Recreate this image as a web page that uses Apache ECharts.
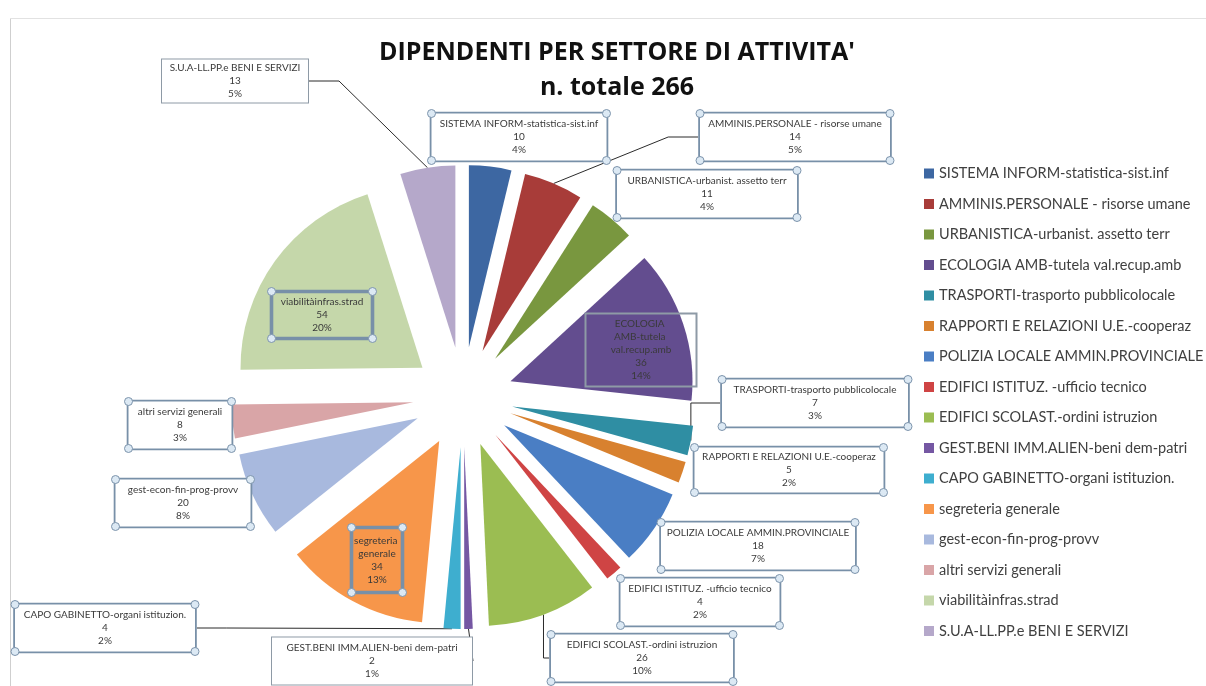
<!DOCTYPE html>
<html>
<head>
<meta charset="utf-8">
<script src="https://cdn.jsdelivr.net/npm/echarts@6/dist/echarts.min.js"></script>
<style>
  html, body { margin: 0; padding: 0; background: #ffffff; }
  #chart { width: 1206px; height: 686px; }
</style>
</head>
<body>
<div id="chart"></div>
<script>
// ---- data ----
const titleLine1 = "DIPENDENTI PER SETTORE DI ATTIVITA'";
const titleLine2 = "n. totale 266";
const categories = [
  "SISTEMA INFORM-statistica-sist.inf",
  "AMMINIS.PERSONALE - risorse umane",
  "URBANISTICA-urbanist. assetto terr",
  "ECOLOGIA AMB-tutela val.recup.amb",
  "TRASPORTI-trasporto pubblicolocale",
  "RAPPORTI E RELAZIONI U.E.-cooperaz",
  "POLIZIA LOCALE AMMIN.PROVINCIALE",
  "EDIFICI ISTITUZ. -ufficio tecnico",
  "EDIFICI SCOLAST.-ordini istruzion",
  "GEST.BENI IMM.ALIEN-beni dem-patri",
  "CAPO GABINETTO-organi istituzion.",
  "segreteria generale",
  "gest-econ-fin-prog-provv",
  "altri servizi generali",
  "viabilitàinfras.strad",
  "S.U.A-LL.PP.e BENI E SERVIZI"
];
const values = [10, 14, 11, 36, 7, 5, 18, 4, 26, 2, 4, 34, 20, 8, 54, 13];

// ---- styling / layout (not data) ----
const colors = [
  "#3d67a2", "#a83c39", "#79973f", "#634d8f", "#2f8ea3", "#d8812f",
  "#4a7ec4", "#cf4444", "#9bbd52", "#7557a3", "#3eaecf", "#f7964a",
  "#a8b9de", "#d9a5a7", "#c5d7aa", "#b5a8ca"
];
const labelCenters = [
  [519, 137], [795, 137], [707, 194], [641, 350], [815, 403], [789, 470],
  [758, 546], [700, 602], [642, 658], [372, 661], [105, 628], [377, 560],
  [183, 503], [180, 425], [322, 315], [235, 81]
];
const boxWidths = [175, 190, 180, 111, 186, 189, 194, 159, 182, 200, 180, 51, 135, 103, 101, 146];
const boxHeights = [47, 47, 47, 73, 47, 45, 47, 47, 47, 47, 47, 65, 47, 47, 47, 43];
const textWidths = {3: 72, 11: 47};
const insideIdx = [3, 11, 14];
const lineIdx = [1, 4, 8, 9, 10, 15];
const handleIdx = [0, 1, 2, 4, 5, 6, 7, 8, 10, 11, 12, 13, 14];
const pieCenter = [463, 397];
const pieRadius = 182;
const explode = 50;

const total = values.reduce((a, b) => a + b, 0);

// one pie layer per slice, each shifted outward along its own bisector (exploded pie)
const series = [];
let before = 0;
values.forEach((v, i) => {
  const mid = (before + v / 2) / total * Math.PI * 2;
  before += v;
  const inside = insideIdx.indexOf(i) >= 0;
  const handled = handleIdx.indexOf(i) >= 0;
  const tw = textWidths[i] != null ? textWidths[i] : boxWidths[i] - 8;
  const padX = (boxWidths[i] - tw) / 2;
  series.push({
    type: 'pie',
    silent: true,
    center: [pieCenter[0] + explode * Math.sin(mid), pieCenter[1] - explode * Math.cos(mid)],
    radius: [0, pieRadius],
    startAngle: 90,
    clockwise: true,
    avoidLabelOverlap: false,
    emphasis: { disabled: true },
    itemStyle: { borderWidth: 0 },
    label: {
      show: false,
      position: 'outside',
      fontFamily: 'Lato',
      fontSize: 10,
      lineHeight: 13,
      color: '#3a3a3a',
      align: 'center',
      formatter: function () {
        return categories[i] + '\n' + values[i] + '\n' + Math.round(values[i] / total * 100) + '%';
      }
    },
    labelLine: { show: false, smooth: false, lineStyle: { color: '#2b2b2b', width: 1 } },
    labelLayout: function () {
      const c = labelCenters[i];
      return { x: c[0], y: c[1], align: 'center', verticalAlign: 'middle' };
    },
    data: values.map((w, j) => (j === i ? {
      name: categories[j],
      value: w,
      itemStyle: { color: colors[j] },
      label: {
        show: true,
        width: tw,
        height: boxHeights[j] - 8,
        overflow: 'break',
        padding: [4, padX, 4, padX],
        backgroundColor: inside ? 'transparent' : '#ffffff',
        borderColor: handled ? '#7890a8' : '#8e9aa6',
        borderWidth: handled ? 1.8 : 1
      },
      labelLine: { show: lineIdx.indexOf(j) >= 0 }
    } : {
      name: '',
      value: w,
      itemStyle: { color: 'rgba(0,0,0,0)' },
      label: { show: false },
      labelLine: { show: false }
    }))
  });
});

// selection handles drawn at the label box corners (as in the original screenshot)
const handles = [];
handleIdx.forEach((i) => {
  const c = labelCenters[i], hw = boxWidths[i] / 2, hh = boxHeights[i] / 2;
  [[-1, -1], [1, -1], [-1, 1], [1, 1]].forEach((s) => {
    handles.push({
      type: 'circle',
      silent: true,
      z: 100,
      shape: { cx: c[0] + s[0] * hw, cy: c[1] + s[1] * hh, r: 4 },
      style: { fill: '#dce9f4', stroke: '#7d94ac', lineWidth: 1 }
    });
  });
});

const chart = echarts.init(document.getElementById('chart'), null, { renderer: 'canvas' });

chart.setOption({
  animation: false,
  backgroundColor: '#ffffff',
  graphic: [
    { type: 'line', shape: { x1: 10.5, y1: 18, x2: 10.5, y2: 686 }, style: { stroke: '#cfcfcf', lineWidth: 1 }, silent: true },
    { type: 'line', shape: { x1: 10, y1: 18.5, x2: 1206, y2: 18.5 }, style: { stroke: '#e2e2e2', lineWidth: 1 }, silent: true },
    { type: 'text', x: 617, y: 53, style: { text: titleLine1, align: 'center', verticalAlign: 'middle', font: 'bold 25px "Open Sans"', fill: '#111111' }, silent: true },
    { type: 'text', x: 617, y: 88, style: { text: titleLine2, align: 'center', verticalAlign: 'middle', font: 'bold 25px "Open Sans"', fill: '#111111' }, silent: true }
  ].concat(handles),
  legend: {
    data: categories,
    orient: 'vertical',
    left: 919,
    top: 161,
    itemWidth: 10,
    itemHeight: 10,
    itemGap: 15.5,
    icon: 'rect',
    selectedMode: false,
    textStyle: { fontFamily: 'Lato', fontSize: 14.5, color: '#404040' }
  },
  series: series
});
</script>
</body>
</html>
